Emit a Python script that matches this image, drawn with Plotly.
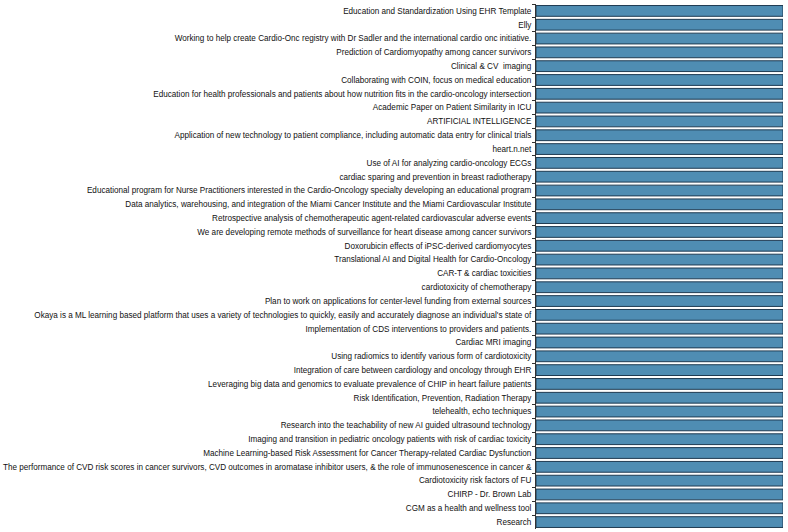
import plotly.graph_objects as go

categories = [
    "Education and Standardization Using EHR Template",
    "Elly",
    "Working to help create Cardio-Onc registry with Dr Sadler and the international cardio onc initiative.",
    "Prediction of Cardiomyopathy among cancer survivors",
    "Clinical & CV  imaging",
    "Collaborating with COIN, focus on medical education",
    "Education for health professionals and patients about how nutrition fits in the cardio-oncology intersection",
    "Academic Paper on Patient Similarity in ICU",
    "ARTIFICIAL INTELLIGENCE",
    "Application of new technology to patient compliance, including automatic data entry for clinical trials",
    "heart.n.net",
    "Use of AI for analyzing cardio-oncology ECGs",
    "cardiac sparing and prevention in breast radiotherapy",
    "Educational program for Nurse Practitioners interested in the Cardio-Oncology specialty developing an educational program",
    "Data analytics, warehousing, and integration of the Miami Cancer Institute and the Miami Cardiovascular Institute",
    "Retrospective analysis of chemotherapeutic agent-related cardiovascular adverse events",
    "We are developing remote methods of surveillance for heart disease among cancer survivors",
    "Doxorubicin effects of iPSC-derived cardiomyocytes",
    "Translational AI and Digital Health for Cardio-Oncology",
    "CAR-T & cardiac toxicities",
    "cardiotoxicity of chemotherapy",
    "Plan to work on applications for center-level funding from external sources",
    "Okaya is a ML learning based platform that uses a variety of technologies to quickly, easily and accurately diagnose an individual's state of",
    "Implementation of CDS interventions to providers and patients.",
    "Cardiac MRI imaging",
    "Using radiomics to identify various form of cardiotoxicity",
    "Integration of care between cardiology and oncology through EHR",
    "Leveraging big data and genomics to evaluate prevalence of CHIP in heart failure patients",
    "Risk Identification, Prevention, Radiation Therapy",
    "telehealth, echo techniques",
    "Research into the teachability of new AI guided ultrasound technology",
    "Imaging and transition in pediatric oncology patients with risk of cardiac toxicity",
    "Machine Learning-based Risk Assessment for Cancer Therapy-related Cardiac Dysfunction",
    "The performance of CVD risk scores in cancer survivors, CVD outcomes in aromatase inhibitor users, & the role of immunosenescence in cancer &",
    "Cardiotoxicity risk factors of FU",
    "CHIRP - Dr. Brown Lab",
    "CGM as a health and wellness tool",
    "Research",
]
values = [1] * len(categories)

fig = go.Figure(go.Bar(
    x=values,
    y=categories,
    orientation="h",
    marker=dict(color="#4f8db3", line=dict(color="#1f3b52", width=1)),
    width=0.78,
    hoverinfo="skip",
))

fig.update_layout(
    width=788, height=532,
    margin=dict(l=536, r=5, t=4, b=3),
    paper_bgcolor="white", plot_bgcolor="white",
    showlegend=False,
    font=dict(family="Liberation Sans, Arial, sans-serif", size=8.15, color="#111111"),
)
fig.update_xaxes(range=[0, 1.0], visible=False, fixedrange=True)
fig.update_yaxes(
    autorange="reversed",
    type="category",
    showline=True, linecolor="#333", linewidth=1,
    ticks="outside", tickson="boundaries", ticklen=3, tickcolor="#333",
    showgrid=False, automargin=False, fixedrange=True,
    tickfont=dict(size=8.15, color="#111111"),
    ticklabelstandoff=2,
)

fig.write_html(
    "out.html",
    config={"displayModeBar": False, "staticPlot": True},
    post_script="document.body.style.margin='0';document.body.style.overflow='hidden';",
)
